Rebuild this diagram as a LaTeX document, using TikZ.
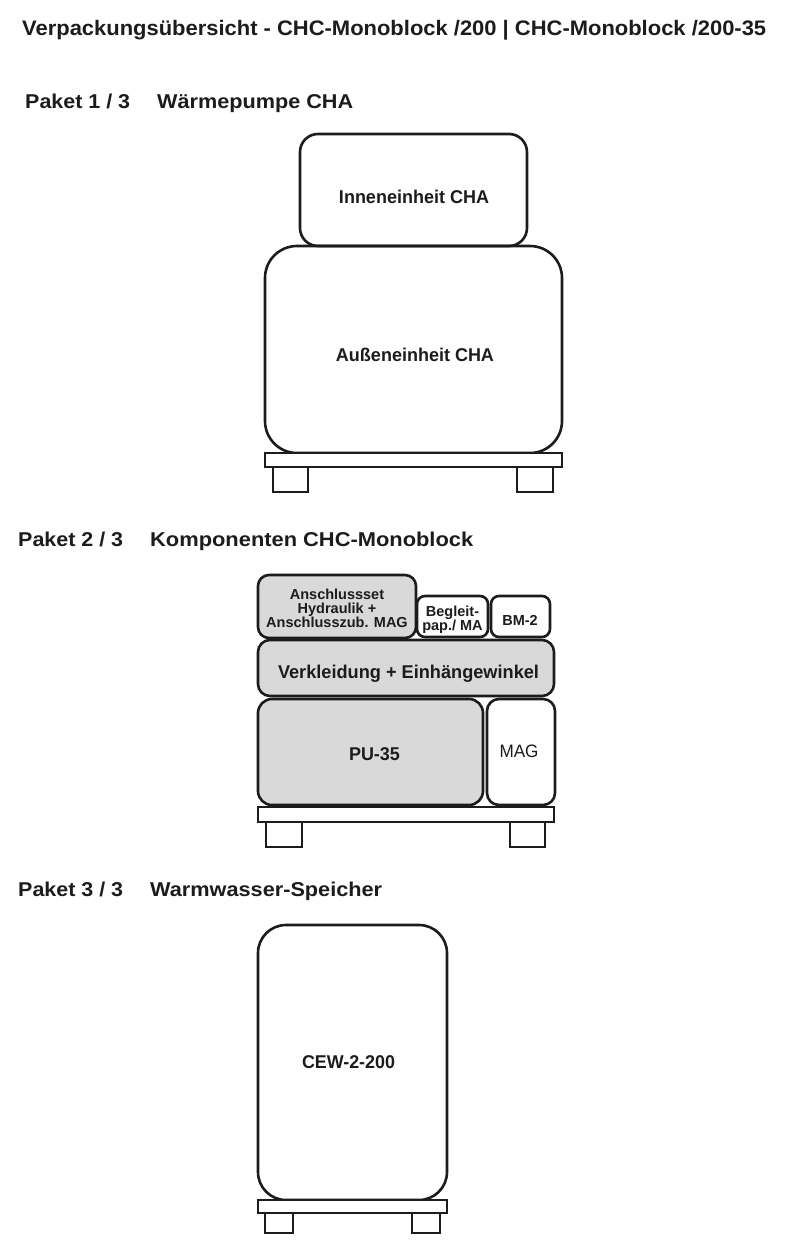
\documentclass[tikz,border=0pt]{standalone}
\usepackage{fontspec}
\setmainfont{Liberation Sans}
\usepackage{graphicx}
\definecolor{boxgray}{RGB}{217,217,217}
\definecolor{ink}{RGB}{28,28,28}
\tikzset{
  pkbox/.style={draw=ink, line width=2.6pt, rounded corners=#1},
  pkbox/.default=12pt,
  wood/.style={draw=ink, line width=2.4pt, fill=white},
  lbl/.style={text=ink, inner sep=0pt, font=\fontsize{18.5}{21}\selectfont\bfseries, anchor=base},
  small/.style={text=ink, inner sep=0pt, font=\fontsize{14.5}{14}\selectfont\bfseries, align=center},
  head/.style={text=ink, inner sep=0pt, font=\fontsize{20}{23}\selectfont\bfseries, anchor=base west},
}
\newcommand{\fitw}[2]{\resizebox{#1}{\height}{#2}}
\begin{document}
\begin{tikzpicture}[x=1pt,y=-1pt]
\useasboundingbox (0,0) rectangle (800,1258);
\fill[white] (0,0) rectangle (800,1258);

% title and headings
\node[head, font=\fontsize{21}{24}\selectfont\bfseries] (title) at (22,35) {\fitw{744pt}{Verpackungsübersicht - CHC-Monoblock /200 | CHC-Monoblock /200-35}};
\node[head] (h1a) at (25,108.3) {\fitw{105pt}{Paket 1 / 3}};
\node[head] (h1b) at (157,108.3) {\fitw{196pt}{Wärmepumpe CHA}};
\node[head] (h2a) at (18,546) {\fitw{105pt}{Paket 2 / 3}};
\node[head] (h2b) at (150,546) {\fitw{323pt}{Komponenten CHC-Monoblock}};
\node[head] (h3a) at (18,896) {\fitw{105pt}{Paket 3 / 3}};
\node[head] (h3b) at (150,896) {\fitw{232pt}{Warmwasser-Speicher}};

% ---------- Paket 1 ----------
\draw[pkbox=18pt] (300,134) rectangle (527,246);
\draw[pkbox=32pt] (265,246) rectangle (562,453);
\draw[wood] (265,453) rectangle (562,467);
\draw[wood] (273,467) rectangle (308,492);
\draw[wood] (517,467) rectangle (553,492);
\node[lbl] (inn) at (414,203.5) {\fitw{150pt}{Inneneinheit CHA}};
\node[lbl] (aus) at (415,361.3) {\fitw{158pt}{Außeneinheit CHA}};

% ---------- Paket 2 ----------
\draw[pkbox=11pt, fill=boxgray] (258,575) rectangle (416,638);
\draw[pkbox=8pt, fill=white] (417,596) rectangle (488,637);
\draw[pkbox=8pt, fill=white] (491,596) rectangle (550,637);
\draw[pkbox=12pt, fill=boxgray] (258,640) rectangle (554,696);
\draw[pkbox=14pt, fill=boxgray] (258,699) rectangle (483,805);
\draw[pkbox=12pt, fill=white] (487,699) rectangle (555,805);
\draw[wood] (258,807) rectangle (554,822);
\draw[wood] (266,822) rectangle (302,847);
\draw[wood] (510,822) rectangle (545,847);
\node[small] (ans) at (337,608.5) {Anschlussset\\Hydraulik +\\Anschlusszub. MAG};
\node[small] (beg) at (452.5,619.5) {Begleit-\\pap./ MA};
\node[small, anchor=base] (bm) at (520,625) {BM-2};
\node[lbl] (verk) at (408.5,678) {\fitw{261pt}{Verkleidung + Einhängewinkel}};
\node[lbl] (pu) at (374.5,760) {\fitw{51pt}{PU-35}};
\node[lbl, font=\fontsize{18}{20}\selectfont] (mag) at (519,757) {\fitw{39pt}{MAG}};

% ---------- Paket 3 ----------
\draw[pkbox=28pt] (258,925) rectangle (447,1200);
\draw[wood] (258,1200) rectangle (447,1213);
\draw[wood] (265,1213) rectangle (293,1233);
\draw[wood] (412,1213) rectangle (440,1233);
\node[lbl] (cew) at (348.5,1068) {\fitw{93pt}{CEW-2-200}};
\end{tikzpicture}
\end{document}
